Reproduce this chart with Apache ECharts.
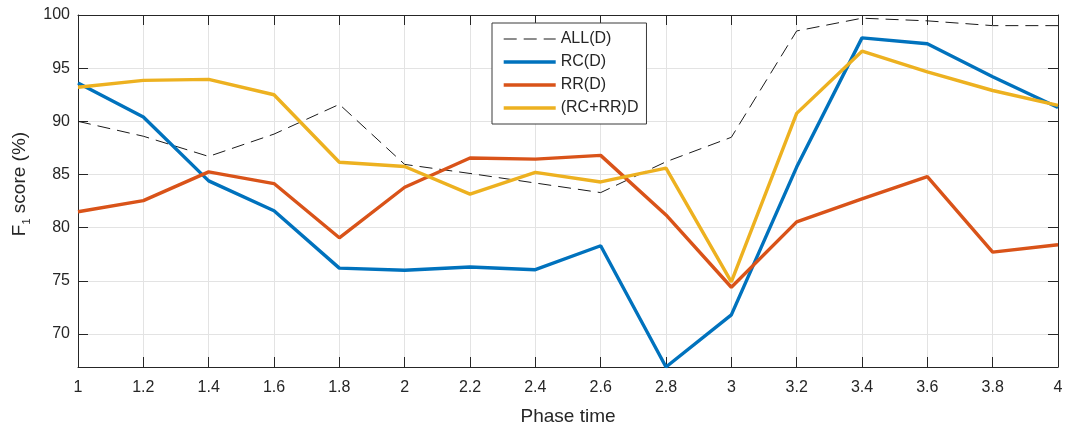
<!DOCTYPE html>
<html>
<head>
<meta charset="utf-8">
<script src="https://cdn.jsdelivr.net/npm/echarts@6/dist/echarts.min.js"></script>
<style>
  html, body { margin: 0; padding: 0; background: #fff; }
  #chart { width: 1068px; height: 432px; }
</style>
</head>
<body>
<div id="chart"></div>
<script>
// Phase time samples (x) and F1 scores (%) for each feature set
const phase = [1, 1.2, 1.4, 1.6, 1.8, 2, 2.2, 2.4, 2.6, 2.8, 3, 3.2, 3.4, 3.6, 3.8, 4];
const allD  = [90.0, 88.6, 86.7, 88.8, 91.6, 85.95, 85.1, 84.2, 83.3, 86.2, 88.5, 98.5, 99.7, 99.45, 99.0, 99.0];
const rcD   = [93.6, 90.4, 84.4, 81.6, 76.2, 76.0, 76.3, 76.05, 78.3, 66.9, 71.8, 85.7, 97.85, 97.3, 94.2, 91.3];
const rrD   = [81.5, 82.55, 85.25, 84.15, 79.05, 83.8, 86.55, 86.45, 86.8, 81.2, 74.4, 80.55, 82.7, 84.8, 77.7, 78.4];
const rcrrD = [93.2, 93.85, 93.95, 92.5, 86.15, 85.75, 83.15, 85.2, 84.3, 85.6, 74.9, 90.75, 96.6, 94.65, 92.9, 91.5];
const seriesNames = ['ALL(D)', 'RC(D)', 'RR(D)', '(RC+RR)D'];
const yTicks = [70, 75, 80, 85, 90, 95, 100];
const yMin = 66.9, yMax = 100;

const pairs = vals => phase.map((x, i) => [x, vals[i]]);

const FONT = "'Liberation Sans', Arial, Helvetica, sans-serif";
const AXIS = '#262626';
const GRID = '#e3e3e3';
const LINE_W = 3.4;

const chart = echarts.init(document.getElementById('chart'), null, { renderer: 'canvas' });

// Boxed axes: ticks point inward on all four sides
const xBase = {
  type: 'value', min: 1, max: 4, interval: 0.2,
  axisLine: { show: true, onZero: false, lineStyle: { color: AXIS, width: 1 } },
  axisTick: { show: true, inside: true, length: 10, lineStyle: { color: AXIS, width: 1 } }
};
const yBase = {
  type: 'value', min: yMin, max: yMax,
  axisLine: { show: true, onZero: false, lineStyle: { color: AXIS, width: 1 } },
  axisTick: { show: true, inside: true, length: 10, customValues: yTicks, lineStyle: { color: AXIS, width: 1 } }
};

chart.setOption({
  animation: false,
  textStyle: { fontFamily: FONT },
  grid: { left: 78, right: 10, top: 15, bottom: 65 },
  xAxis: [
    Object.assign({}, xBase, {
      position: 'bottom',
      name: 'Phase time', nameLocation: 'middle', nameGap: 40,
      nameTextStyle: { color: AXIS, fontSize: 19, fontFamily: FONT },
      axisLabel: {
        color: AXIS, fontSize: 16, fontFamily: FONT, margin: 13,
        formatter: v => String(Math.round(v * 10) / 10)
      },
      splitLine: { show: true, lineStyle: { color: GRID, width: 1 } }
    }),
    Object.assign({}, xBase, {
      position: 'top',
      axisLabel: { show: false },
      splitLine: { show: false }
    })
  ],
  yAxis: [
    Object.assign({}, yBase, {
      position: 'left',
      name: '{a|F}{s|1}{a| score (%)}', nameLocation: 'middle', nameRotate: 90, nameGap: 42,
      nameTextStyle: {
        color: AXIS, fontFamily: FONT, padding: [0, 0, 0, 14],
        rich: {
          a: { fontSize: 19, lineHeight: 22, verticalAlign: 'top', color: AXIS, fontFamily: FONT },
          s: { fontSize: 11, lineHeight: 10, verticalAlign: 'bottom', color: AXIS, fontFamily: FONT }
        }
      },
      axisLabel: { color: AXIS, fontSize: 16, fontFamily: FONT, margin: 8, customValues: yTicks },
      splitLine: { show: true, lineStyle: { color: GRID, width: 1 } }
    }),
    Object.assign({}, yBase, {
      position: 'right',
      axisLabel: { show: false },
      splitLine: { show: false }
    })
  ],
  legend: {
    data: seriesNames,
    orient: 'vertical',
    left: 492, top: 23,
    padding: [8, 8, 8, 10],
    itemWidth: 52, itemHeight: 14, itemGap: 7,
    itemStyle: { opacity: 0 },
    lineStyle: { width: 'inherit' },
    backgroundColor: '#fff',
    borderColor: '#3a3a3a', borderWidth: 1, borderRadius: 0,
    textStyle: { color: AXIS, fontSize: 16, lineHeight: 16, fontFamily: FONT },
    inactiveColor: '#ccc'
  },
  series: [
    {
      name: seriesNames[0], type: 'line', data: pairs(allD),
      symbol: 'none', color: '#1a1a1a',
      lineStyle: { color: '#1a1a1a', width: 1, type: [13, 7] }
    },
    {
      name: seriesNames[1], type: 'line', data: pairs(rcD),
      symbol: 'none', color: '#0072BD',
      lineStyle: { color: '#0072BD', width: LINE_W }
    },
    {
      name: seriesNames[2], type: 'line', data: pairs(rrD),
      symbol: 'none', color: '#D95319',
      lineStyle: { color: '#D95319', width: LINE_W }
    },
    {
      name: seriesNames[3], type: 'line', data: pairs(rcrrD),
      symbol: 'none', color: '#EDB120',
      lineStyle: { color: '#EDB120', width: LINE_W }
    }
  ]
});
</script>
</body>
</html>
